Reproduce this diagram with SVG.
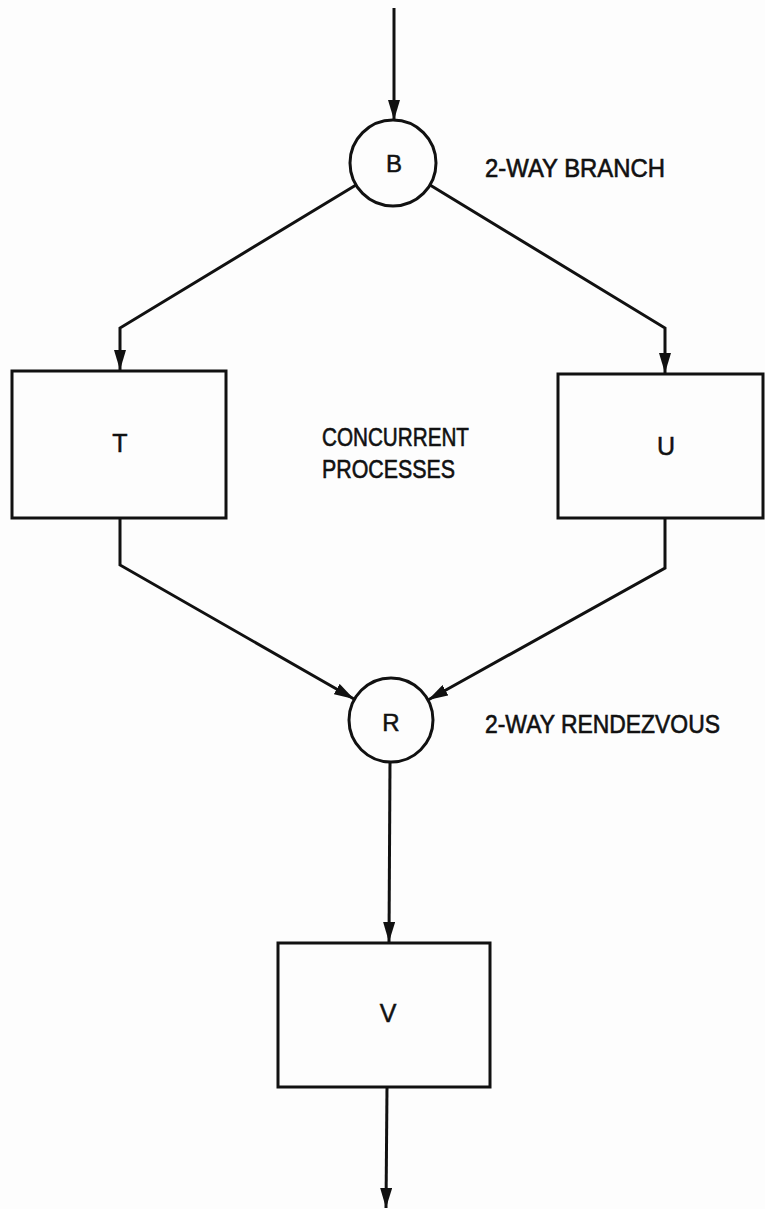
<svg xmlns="http://www.w3.org/2000/svg" width="765" height="1209" viewBox="0 0 765 1209">
  <style>
    .bg { fill: #fdfdfd; }
    .box { fill: none; stroke: #111; stroke-width: 3; }
    .wire { fill: none; stroke: #111; stroke-width: 3; stroke-linejoin: miter; }
    .lbl { font-family: "Liberation Sans", "DejaVu Sans", sans-serif; fill: #111; text-anchor: middle; stroke: #111; stroke-width: 0.5; }
    .note { font-family: "Liberation Sans", "DejaVu Sans", sans-serif; fill: #111; stroke: #111; stroke-width: 0.6; }
  </style>
  <defs>
    <marker id="arrow" viewBox="0 0 20 12" refX="20" refY="6" markerWidth="20" markerHeight="12" markerUnits="userSpaceOnUse" orient="auto">
      <path d="M0,0 L20,6 L0,12 Z" fill="#111"/>
    </marker>
  </defs>

  <rect class="bg" x="0" y="0" width="765" height="1209"/>

  <!-- connectors -->
  <g id="connectors">
    <path class="wire" d="M394,8 L394,120" marker-end="url(#arrow)"/>
    <path class="wire" d="M356,185 L120,328 L120,370" marker-end="url(#arrow)"/>
    <path class="wire" d="M430,185 L665,328 L665,373" marker-end="url(#arrow)"/>
    <path class="wire" d="M120,517 L120,565 L354,699" marker-end="url(#arrow)"/>
    <path class="wire" d="M665,518 L665,568 L428,700" marker-end="url(#arrow)"/>
    <path class="wire" d="M390,762 L389,942" marker-end="url(#arrow)"/>
    <path class="wire" d="M387,1087 L386,1208" marker-end="url(#arrow)"/>
  </g>

  <!-- branch node -->
  <g id="node-B">
    <circle class="box" cx="393" cy="163" r="43"/>
    <text class="lbl" x="394" y="172" font-size="24">B</text>
  </g>
  <text class="note" x="485" y="177" font-size="25" textLength="180" lengthAdjust="spacingAndGlyphs">2-WAY BRANCH</text>

  <!-- concurrent process T -->
  <g id="node-T">
    <rect class="box" x="12" y="371" width="214" height="147"/>
    <text class="lbl" x="120" y="452" font-size="25">T</text>
  </g>

  <!-- concurrent process U -->
  <g id="node-U">
    <rect class="box" x="558" y="374" width="205" height="144"/>
    <text class="lbl" x="666" y="455" font-size="25">U</text>
  </g>

  <text class="note" x="322" y="446" font-size="25" textLength="147" lengthAdjust="spacingAndGlyphs">CONCURRENT</text>
  <text class="note" x="322" y="478" font-size="25" textLength="133" lengthAdjust="spacingAndGlyphs">PROCESSES</text>

  <!-- rendezvous node -->
  <g id="node-R">
    <circle class="box" cx="391" cy="720" r="42"/>
    <text class="lbl" x="391" y="731" font-size="24">R</text>
  </g>
  <text class="note" x="485" y="733" font-size="25" textLength="235" lengthAdjust="spacingAndGlyphs">2-WAY RENDEZVOUS</text>

  <!-- process V -->
  <g id="node-V">
    <rect class="box" x="278" y="943" width="212" height="144"/>
    <text class="lbl" x="388" y="1022" font-size="25">V</text>
  </g>
</svg>
